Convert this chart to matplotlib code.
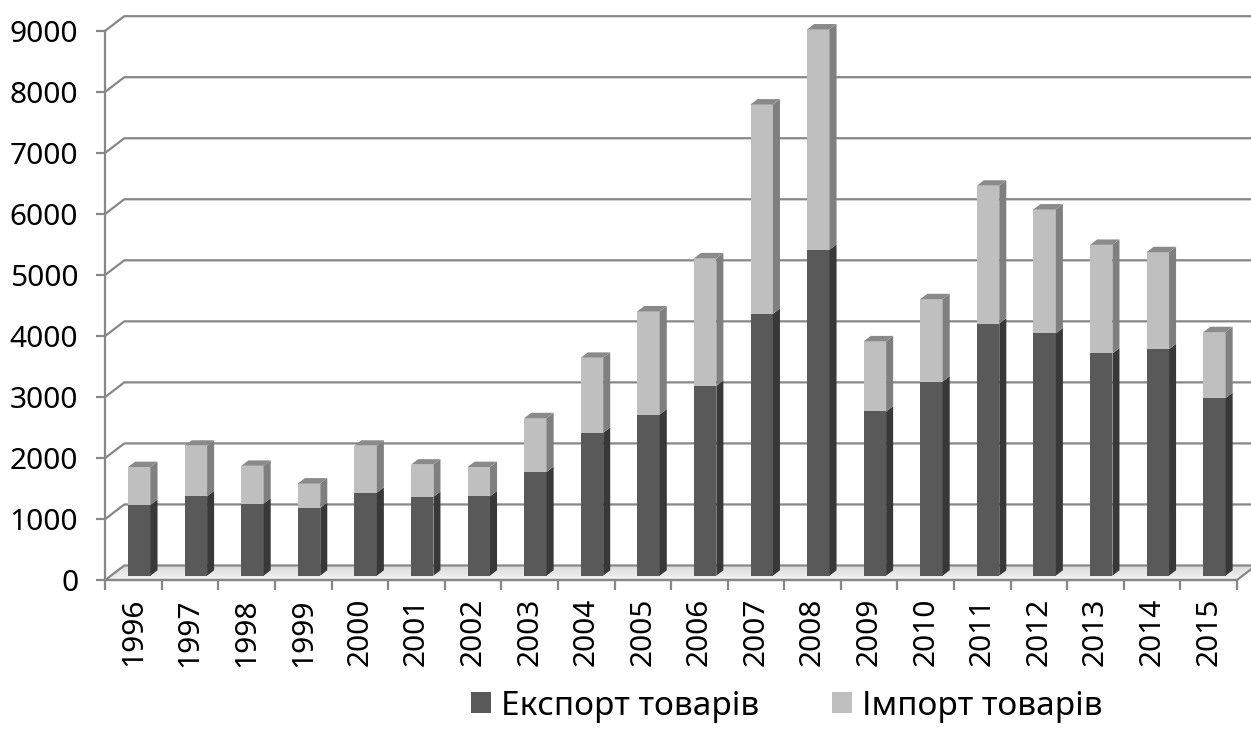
import numpy as np
import matplotlib
matplotlib.use("Agg")
import matplotlib.pyplot as plt
from matplotlib.patches import Polygon, Patch

years = ["1996", "1997", "1998", "1999", "2000", "2001", "2002", "2003", "2004", "2005",
         "2006", "2007", "2008", "2009", "2010", "2011", "2012", "2013", "2014", "2015"]
export_goods = [1160, 1300, 1180, 1110, 1360, 1290, 1300, 1700, 2340, 2640,
                3110, 4290, 5340, 2690, 3180, 4130, 3970, 3640, 3710, 2910]
import_goods = [620, 830, 620, 400, 770, 530, 480, 880, 1230, 1690,
                2090, 3430, 3610, 1150, 1350, 2260, 2030, 1780, 1590, 1080]
y_ticks = [0, 1000, 2000, 3000, 4000, 5000, 6000, 7000, 8000, 9000]
legend_labels = ["Експорт товарів", "Імпорт товарів"]

# fake 3d: offset of the back wall in data units
DX = 0.336
DY = 238
BAR_FRONT = 0.3
BAR_BACK = 0.67
BAR_W = 0.396
GRID = "#878787"

plt.rcParams['font.family'] = ['Noto Sans', 'DejaVu Sans']


def draw_walls(ax, n):
    for v in y_ticks[1:]:
        ax.plot([0, DX, n + DX], [v, v + DY, v + DY], color=GRID, lw=1.6,
                clip_on=False, zorder=1, solid_capstyle='butt')
    # floor with a soft gradient
    bands = 14
    for k in range(bands):
        d0, d1 = k / bands, (k + 1) / bands
        g = 0.97 - 0.17 * (k + 0.5) / bands
        pts = [(d0 * DX, d0 * DY), (d1 * DX, d1 * DY), (n + d1 * DX, d1 * DY), (n + d0 * DX, d0 * DY)]
        ax.add_patch(Polygon(pts, closed=True, facecolor=(g, g, g), edgecolor='none',
                             clip_on=False, zorder=1.5))
    outline = [(0, 0), (DX, DY), (n + DX, DY), (n, 0)]
    ax.add_patch(Polygon(outline, closed=True, facecolor='none', edgecolor=GRID, lw=1.6,
                         clip_on=False, zorder=1.6))


def draw_bars(ax, x, export, imports):
    base = BAR_FRONT * DY
    ddx = (BAR_BACK - BAR_FRONT) * DX
    ddy = (BAR_BACK - BAR_FRONT) * DY
    xc = x + BAR_FRONT * DX
    export = np.array(export)
    imports = np.array(imports)
    ax.bar(xc, export, width=BAR_W, bottom=base, color="#595959", zorder=3, clip_on=False)
    ax.bar(xc, imports, width=BAR_W, bottom=base + export, color="#bfbfbf", zorder=3, clip_on=False)
    for cx, e, m in zip(xc, export, imports):
        x1 = cx + BAR_W / 2
        x0 = cx - BAR_W / 2
        side_e = [(x1, base), (x1 + ddx, base + ddy), (x1 + ddx, base + e + ddy), (x1, base + e)]
        side_m = [(x1, base + e), (x1 + ddx, base + e + ddy), (x1 + ddx, base + e + m + ddy), (x1, base + e + m)]
        top = base + e + m
        top_face = [(x0, top), (x0 + ddx, top + ddy), (x1 + ddx, top + ddy), (x1, top)]
        ax.add_patch(Polygon(side_e, closed=True, facecolor="#383838", edgecolor='none', zorder=3, clip_on=False))
        ax.add_patch(Polygon(side_m, closed=True, facecolor="#7f7f7f", edgecolor='none', zorder=3, clip_on=False))
        ax.add_patch(Polygon(top_face, closed=True, facecolor="#8a8a8a", edgecolor='none', zorder=3, clip_on=False))


def main():
    fig = plt.figure(figsize=(12.51, 7.31), dpi=100)
    ax = fig.add_axes([105.3 / 1251, 151 / 731, 1131.7 / 1251, 549.3 / 731])
    n = len(years)
    x = np.arange(n) + 0.5

    draw_walls(ax, n)
    draw_bars(ax, x, export_goods, import_goods)

    ax.set_xlim(0, n)
    ax.set_ylim(0, 9000)
    ax.set_yticks(y_ticks)
    ax.set_yticklabels([str(v) for v in y_ticks], fontsize=21.5)
    ax.set_xticks(x)
    ax.set_xticklabels(years, rotation=90, fontsize=21.5)
    ax.set_xticks(np.arange(n + 1), minor=True)
    ax.tick_params(axis='x', which='major', length=0, pad=13)
    ax.tick_params(axis='x', which='minor', length=7.5, width=1.6, color=GRID)
    ax.tick_params(axis='y', length=6.5, width=1.6, color=GRID, pad=13)

    for s in ['top', 'right']:
        ax.spines[s].set_visible(False)
    for s in ['left', 'bottom']:
        ax.spines[s].set_color(GRID)
        ax.spines[s].set_linewidth(1.6)
        ax.spines[s].set_zorder(4)
    ax.patch.set_visible(False)

    handles = [Patch(facecolor="#595959"), Patch(facecolor="#bfbfbf")]
    fig.legend(handles, legend_labels, loc='center', bbox_to_anchor=(0.629, 0.034), ncol=2,
               frameon=False, fontsize=24, handlelength=0.6, handleheight=0.6,
               handletextpad=0.3, columnspacing=2.2)

    fig.savefig("out.png", dpi=100)
    plt.close(fig)


if __name__ == "__main__":
    main()
